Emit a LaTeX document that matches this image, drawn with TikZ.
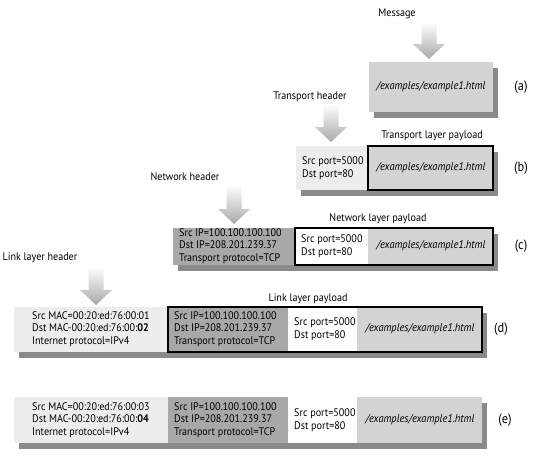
\documentclass[tikz,border=0pt]{standalone}
\usepackage{fontspec}
\setmainfont{PT Sans}[FakeStretch=0.92]
\definecolor{lightsec}{HTML}{EDEDED}
\definecolor{darksec}{HTML}{A8A8A8}
\definecolor{paysec}{HTML}{D3D3D3}
\definecolor{shadowc}{HTML}{8A8A8A}
\definecolor{arrowc}{HTML}{A9A9A9}
\newcommand\blockarrow[3]{%
  \shade[top color=white, bottom color=arrowc]
    (#1-7.5,#2) -- (#1+7.5,#2) -- (#1+7.5,#3-15) -- (#1+16,#3-15) -- (#1,#3)
    -- (#1-16,#3-15) -- (#1-7.5,#3-15) -- cycle;}
\begin{document}
\begin{tikzpicture}[x=1pt,y=-1pt,
  font=\fontsize{11}{12.5}\selectfont,
  txt/.style={inner sep=0pt, align=left},
  lbl/.style={inner sep=0pt, font=\fontsize{13.5}{15}\selectfont},
  path/.style={inner sep=0pt, font=\fontsize{11.3}{12}\selectfont\itshape},
  shadowbox/.style={fill=shadowc},
  border/.style={draw=black, line width=1.4pt}]
\useasboundingbox (0,0) rectangle (536,457);

% ---------- header labels and arrows
\node[txt] (msg) at (397,14) {Message};
\blockarrow{429}{22}{59}
\node[txt] (th) at (310,97) {Transport header};
\blockarrow{331}{104}{142}
\node[txt] (nh) at (185,177) {Network header};
\blockarrow{234}{185}{224}
\node[txt] (lh) at (40,258) {Link layer header};
\blockarrow{96}{267}{305}

% ---------- (a)
\fill[shadowbox] (374,68) rectangle (498,118);
\fill[paysec] (369,62) rectangle (493,112);
\node[path] (pa) at (431,87) {/examples/example1.html};
\node[lbl] (la) at (521,87) {(a)};

% ---------- (b)
\fill[shadowbox] (301,152) rectangle (498,196);
\fill[lightsec] (296,146) rectangle (368,190);
\fill[paysec] (368,146) rectangle (493,190);
\draw[border] (368,146) rectangle (493,190);
\node[txt, anchor=west] (tb) at (302,168) {Src port=5000\\Dst port=80};
\node[path] (pb) at (431,168) {/examples/example1.html};
\node[txt] (tpl) at (432,136) {Transport layer payload};
\node[lbl] (lb) at (521,168) {(b)};

% ---------- (c)
\fill[shadowbox] (178,234) rectangle (498,271);
\fill[darksec] (173,228) rectangle (295,265);
\fill[white] (295,228) rectangle (368,265);
\fill[paysec] (368,228) rectangle (493,265);
\draw[border] (295,228) rectangle (493,265);
\node[txt, anchor=west] (ipc) at (179,246) {Src IP=100.100.100.100\\Dst IP=208.201.239.37\\Transport protocol=TCP};
\node[txt, anchor=west] (tc) at (301,246) {Src port=5000\\Dst port=80};
\node[path] (pc) at (431,246) {/examples/example1.html};
\node[txt] (npl) at (378,219) {Network layer payload};
\node[lbl] (lc) at (521,246) {(c)};

% ---------- (d)
\fill[shadowbox] (19,313) rectangle (487,358);
\fill[lightsec] (14,307) rectangle (168,352);
\fill[darksec] (168,307) rectangle (288,352);
\fill[white] (288,307) rectangle (357,352);
\fill[paysec] (357,307) rectangle (482,352);
\draw[border] (168,307) rectangle (482,352);
\node[txt, anchor=west] (macd) at (32,329) {Src MAC=00:20:ed:76:00:01\\Dst MAC-00:20:ed:76:00:\textbf{02}\\Internet protocol=IPv4};
\node[txt, anchor=west] (ipd) at (174,329) {Src IP=100.100.100.100\\Dst IP=208.201.239.37\\Transport protocol=TCP};
\node[txt, anchor=west] (td) at (294,329) {Src port=5000\\Dst port=80};
\node[path] (pd) at (420,329) {/examples/example1.html};
\node[txt] (lpl) at (308,299) {Link layer payload};
\node[lbl] (ld) at (501,329) {(d)};

% ---------- (e)
\fill[shadowbox] (19,403) rectangle (487,449);
\fill[lightsec] (14,397) rectangle (168,443);
\fill[darksec] (168,397) rectangle (288,443);
\fill[white] (288,397) rectangle (357,443);
\fill[paysec] (357,397) rectangle (482,443);
\node[txt, anchor=west] (mace) at (32,420) {Src MAC=00:20:ed:76:00:03\\Dst MAC-00:20:ed:76:00:\textbf{04}\\Internet protocol=IPv4};
\node[txt, anchor=west] (ipe) at (174,420) {Src IP=100.100.100.100\\Dst IP=208.201.239.37\\Transport protocol=TCP};
\node[txt, anchor=west] (te) at (294,420) {Src port=5000\\Dst port=80};
\node[path] (pe) at (420,420) {/examples/example1.html};
\node[lbl] (le) at (505,420) {(e)};
\end{tikzpicture}
\end{document}
